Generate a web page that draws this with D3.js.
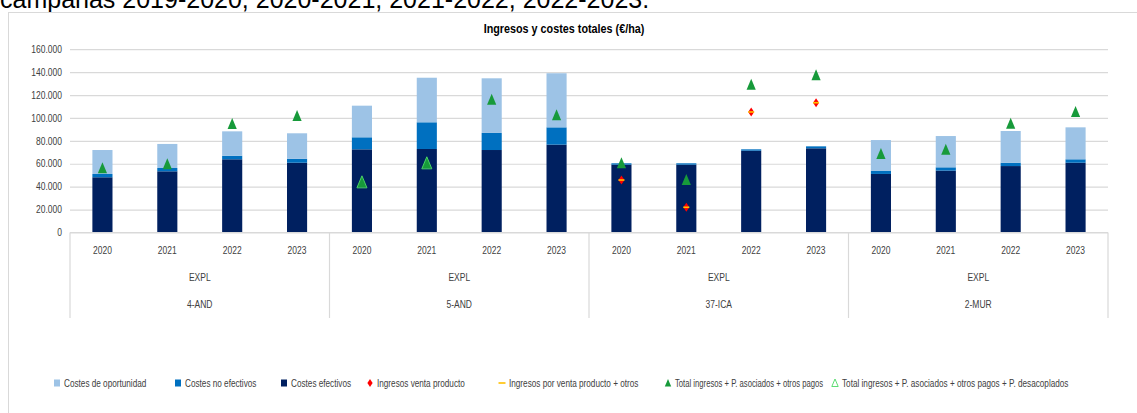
<!DOCTYPE html>
<html>
<head>
<meta charset="utf-8">
<script src="https://cdn.jsdelivr.net/npm/d3@7"></script>
<style>
  html, body { margin: 0; padding: 0; background: #fff; }
  svg { display: block; }
  .lbl { font-family: "Liberation Sans", Arial, sans-serif; }
</style>
</head>
<body>
<svg id="chart" width="1137" height="413"></svg>
<script>
// Categories: four farms (regions), four campaigns each
const regions = ["4-AND", "5-AND", "37-ICA", "2-MUR"];
const years = ["2020", "2021", "2022", "2023"];
const level2 = "EXPL";

// Cost components (€/ha), stacked bottom to top
const costesEfectivos   = [48200, 53400, 63900, 60900, 72600, 72900, 72000, 76700, 59200, 59200, 71400, 73500, 51100, 54000, 58000, 60900];
const costesNoEfectivos = [2900, 2900, 3100, 3500, 10500, 23300, 14900, 15100, 1200, 1200, 1200, 1700, 2900, 2900, 2900, 3000];
const costesOportunidad = [20900, 21000, 21300, 22200, 27600, 38900, 47700, 47200, 0, 0, 0, 0, 26700, 27300, 27700, 27900];

// Income series (€/ha); null where no value is shown
const ingresosVenta      = [null, null, null, null, null, null, null, null, 45800, 22000, 105200, 113300, null, null, null, null];
const ingresosVentaOtros = [null, null, null, null, null, null, null, null, 45800, 22000, 105200, 113300, null, null, null, null];
const totalIngresos      = [56000, 59500, 94700, 101700, 43800, 60400, 115900, 102300, 60500, 45800, 129000, 137200, 68500, 72300, 95000, 105200];
const totalDesacoplados  = [null, null, null, null, 43800, 60400, null, null, null, null, null, null, null, null, null, null];

const yTicks = [0, 20000, 40000, 60000, 80000, 100000, 120000, 140000, 160000];

const colors = {
  oport: "#9DC3E6",
  noEf: "#0070C0",
  ef: "#002060",
  venta: "#FF0000",
  otros: "#FFC000",
  total: "#179A3A",
  hollow: "#4CD964",
  grid: "#D9D9D9",
  text: "#404040"
};

// Horizontal compression applied to chart labels (condensed look)
const SX = 0.85;

const svg = d3.select("#chart");
const W = 1137, H = 413;

// Surrounding document text (partially visible above the chart box)
svg.append("text")
  .attr("x", 0).attr("y", 8)
  .attr("font-family", "'Liberation Sans', Arial, sans-serif")
  .attr("font-size", 25)
  .attr("fill", "#000")
  .text("campañas 2019-2020, 2020-2021, 2021-2022, 2022-2023.");

// Chart area box
svg.append("rect")
  .attr("x", 8.5).attr("y", 12.5)
  .attr("width", W + 10).attr("height", H + 10)
  .attr("fill", "#fff")
  .attr("stroke", "#D9D9D9");

const plot = { left: 70, right: 1108, top: 49.2, bottom: 232.5 };

// Adds a condensed label at (x, y)
function label(parent, x0, y0, txt, opts = {}) {
  return parent.append("text")
    .attr("class", "lbl")
    .attr("transform", `translate(${x0},${y0}) scale(${opts.sx || SX},1)`)
    .attr("text-anchor", opts.anchor || "start")
    .attr("font-size", opts.size || 10)
    .attr("font-weight", opts.weight || "normal")
    .attr("fill", opts.fill || colors.text)
    .text(txt);
}

label(svg, 564, 33, "Ingresos y costes totales (€/ha)", { anchor: "middle", size: 12, weight: "bold", fill: "#000", sx: 0.9 });

const cats = [];
regions.forEach((r, ri) => years.forEach((yv, yi) => cats.push({ key: r + "-" + yv, region: r, year: yv, i: ri * years.length + yi })));

const x = d3.scaleBand()
  .domain(cats.map(d => d.key))
  .range([plot.left, plot.right])
  .padding(0);

const y = d3.scaleLinear()
  .domain([0, 160000])
  .range([plot.bottom, plot.top]);

const locale = d3.formatLocale({ decimal: ",", thousands: ".", grouping: [3], currency: ["", "€"] });
const fmt = locale.format(",.0f");

// Gridlines and y labels
const yAxis = d3.axisLeft(y).tickValues(yTicks).tickSize(-(plot.right - plot.left)).tickFormat(fmt);
const gy = svg.append("g")
  .attr("class", "lbl")
  .attr("transform", `translate(${plot.left},0)`)
  .call(yAxis);
gy.select(".domain").remove();
gy.selectAll(".tick line").attr("stroke", colors.grid).attr("stroke-width", 1.2);
gy.selectAll(".tick text")
  .attr("fill", colors.text)
  .attr("font-size", 10)
  .attr("x", -8 / SX)
  .attr("transform", `scale(${SX},1)`);

// Stacked bars
const barW = x.bandwidth() * 0.31;
const stackData = cats.map(c => ({
  key: c.key,
  ef: costesEfectivos[c.i],
  noEf: costesNoEfectivos[c.i],
  oport: costesOportunidad[c.i]
}));
const series = d3.stack().keys(["ef", "noEf", "oport"])(stackData);

svg.append("g").selectAll("g")
  .data(series)
  .join("g")
  .attr("fill", s => colors[s.key])
  .selectAll("rect")
  .data(s => s)
  .join("rect")
  .attr("x", d => x(d.data.key) + (x.bandwidth() - barW) / 2)
  .attr("width", barW)
  .attr("y", d => y(d[1]))
  .attr("height", d => Math.max(0, y(d[0]) - y(d[1])));

// Category axis: line, group separators and three levels of labels
const axisG = svg.append("g");
axisG.append("line")
  .attr("x1", plot.left).attr("x2", plot.right)
  .attr("y1", plot.bottom).attr("y2", plot.bottom)
  .attr("stroke", colors.grid).attr("stroke-width", 1.2);

const groupEdges = regions.map((r, ri) => x(cats[ri * years.length].key)).concat([plot.right]);
axisG.selectAll("line.sep")
  .data(groupEdges)
  .join("line")
  .attr("class", "sep")
  .attr("x1", d => d).attr("x2", d => d)
  .attr("y1", plot.bottom).attr("y2", 318)
  .attr("stroke", colors.grid).attr("stroke-width", 1.2);

cats.forEach(c => label(axisG, x(c.key) + x.bandwidth() / 2, 254, c.year, { anchor: "middle" }));

regions.forEach((r, ri) => {
  const mid = (groupEdges[ri] + groupEdges[ri + 1]) / 2;
  label(axisG, mid, 281, level2, { anchor: "middle" });
  label(axisG, mid, 308, r, { anchor: "middle" });
});

// Markers
const cx = c => x(c.key) + x.bandwidth() / 2;
const diamond = "M0,-4.5L3,0L0,4.5L-3,0Z";

const mk = svg.append("g");

// Ingresos venta producto (red diamonds)
mk.selectAll("path.venta")
  .data(cats.filter(c => ingresosVenta[c.i] != null))
  .join("path")
  .attr("class", "venta")
  .attr("d", diamond)
  .attr("fill", colors.venta)
  .attr("transform", c => `translate(${cx(c)},${y(ingresosVenta[c.i])})`);

// Ingresos por venta producto + otros (yellow dash)
mk.selectAll("line.otros")
  .data(cats.filter(c => ingresosVentaOtros[c.i] != null))
  .join("line")
  .attr("class", "otros")
  .attr("x1", c => cx(c) - 3).attr("x2", c => cx(c) + 3)
  .attr("y1", c => y(ingresosVentaOtros[c.i])).attr("y2", c => y(ingresosVentaOtros[c.i]))
  .attr("stroke", colors.otros).attr("stroke-width", 1.6);

// Total ingresos + P. asociados + otros pagos (filled triangles)
const triPath = "M0,-6L4.6,5L-4.6,5Z";
mk.selectAll("path.total")
  .data(cats.filter(c => totalIngresos[c.i] != null))
  .join("path")
  .attr("class", "total")
  .attr("d", triPath)
  .attr("fill", colors.total)
  .attr("transform", c => `translate(${cx(c)},${y(totalIngresos[c.i])})`);

// + P. desacoplados (hollow triangles)
mk.selectAll("path.desac")
  .data(cats.filter(c => totalDesacoplados[c.i] != null))
  .join("path")
  .attr("class", "desac")
  .attr("d", "M0,-6.5L5,5.5L-5,5.5Z")
  .attr("fill", "none")
  .attr("stroke", colors.hollow).attr("stroke-width", 1)
  .attr("transform", c => `translate(${cx(c)},${y(totalDesacoplados[c.i])})`);

// Legend
const legendY = 383;
const legend = svg.append("g");
const items = [
  { label: "Costes de oportunidad", type: "rect", color: colors.oport, x: 57, sx: 0.82 },
  { label: "Costes no efectivos", type: "rect", color: colors.noEf, x: 178, sx: 0.82 },
  { label: "Costes efectivos", type: "rect", color: colors.ef, x: 284, sx: 0.82 },
  { label: "Ingresos venta producto", type: "diamond", color: colors.venta, x: 370, sx: 0.82 },
  { label: "Ingresos por venta producto + otros", type: "dash", color: colors.otros, x: 502, sx: 0.82 },
  { label: "Total ingresos + P. asociados + otros pagos", type: "tri", color: colors.total, x: 668, sx: 0.77 },
  { label: "Total ingresos + P. asociados + otros pagos + P. desacoplados", type: "hollow", color: colors.hollow, x: 835, sx: 0.82 }
];
items.forEach(it => {
  const g = legend.append("g").attr("transform", `translate(${it.x},${legendY})`);
  if (it.type === "rect") {
    g.append("rect").attr("x", -3).attr("y", -3.5).attr("width", 6).attr("height", 7).attr("fill", it.color);
  } else if (it.type === "diamond") {
    g.append("path").attr("d", "M0,-4L2.6,0L0,4L-2.6,0Z").attr("fill", it.color);
  } else if (it.type === "dash") {
    g.append("line").attr("x1", -3.5).attr("x2", 3.5).attr("y1", 0).attr("y2", 0).attr("stroke", it.color).attr("stroke-width", 1.6);
  } else if (it.type === "tri") {
    g.append("path").attr("d", "M0,-4L3.2,3.5L-3.2,3.5Z").attr("fill", it.color);
  } else {
    g.append("path").attr("d", "M0,-4L3.2,3.5L-3.2,3.5Z").attr("fill", "none").attr("stroke", it.color).attr("stroke-width", 0.9);
  }
  label(g, 7, 3.5, it.label, { sx: it.sx });
});
</script>
</body>
</html>
